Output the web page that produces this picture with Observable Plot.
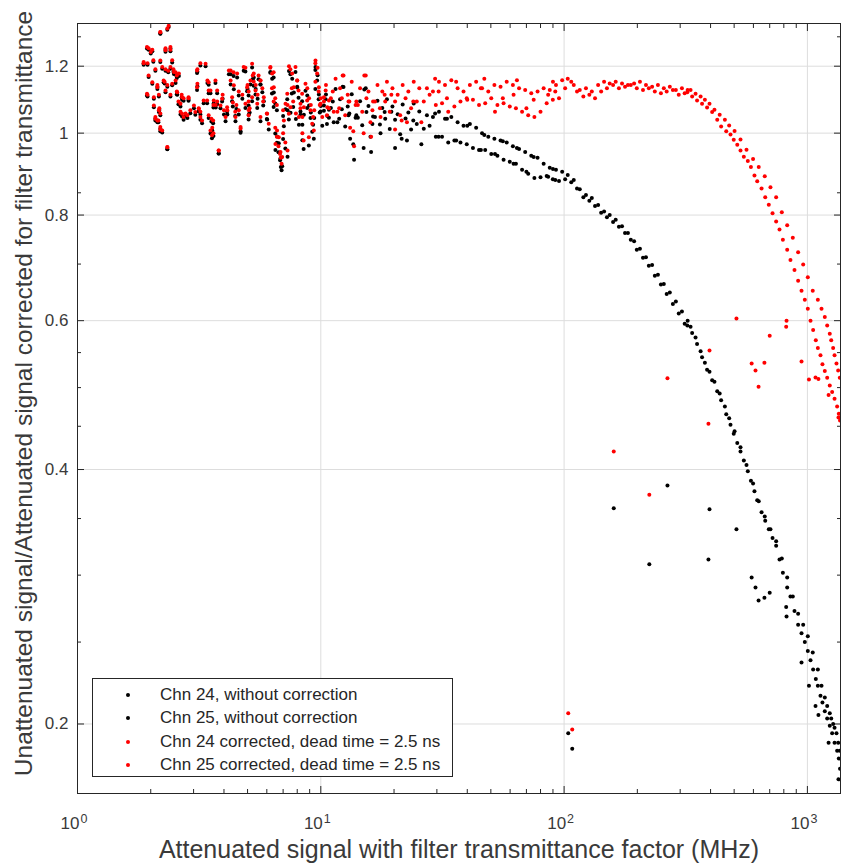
<!DOCTYPE html>
<html>
<head>
<meta charset="utf-8">
<script src="https://cdn.jsdelivr.net/npm/d3@7"></script>
<script src="https://cdn.jsdelivr.net/npm/@observablehq/plot@0.6"></script>
<style>
  body { margin: 0; background: #fff; }
  #wrap { position: relative; width: 841px; height: 863px; font-family: "Liberation Sans", Arial, Helvetica, sans-serif; }
  #legend { position: absolute; left: 92px; top: 678px; width: 359px; height: 97px; border: 1px solid #262626; background: #fff; }
  .row { position: absolute; left: 0; height: 20px; line-height: 20px; font-size: 17px; color: #262626; white-space: nowrap; }
  .row .m { position: absolute; left: 33px; top: 8px; width: 4px; height: 4px; border-radius: 50%; }
  .row .t { position: absolute; left: 67px; top: 0; }
</style>
</head>
<body>
<div id="wrap"></div>
<script>
// ---- tick labels / axis text ----
const xMajor = [1, 10, 100, 1000];
const xExp = ["0", "1", "2", "3"];
const xMinor = [2,3,4,5,6,7,8,9,20,30,40,50,60,70,80,90,200,300,400,500,600,700,800,900];
const yMajor = [0.2, 0.4, 0.6, 0.8, 1, 1.2];
const yMajorLabels = ["0.2", "0.4", "0.6", "0.8", "1", "1.2"];
const yMinor = [0.25, 0.3, 0.35, 0.45, 0.5, 0.55, 0.7, 0.85, 1.3];
const xLabel = "Attenuated signal with filter transmittance factor (MHz)";
const yLabel = "Unattenuated signal/Attenuated signal corrected for filter transmittance";
const seriesNames = ["Chn 24, without correction", "Chn 25, without correction",
  "Chn 24 corrected, dead time = 2.5 ns", "Chn 25 corrected, dead time = 2.5 ns"];

// ---- data: [attenuated signal (MHz), ratio without correction, ratio corrected] ----
const chn24Cloud = [
 [1.87,1.205,1.21],[1.94,1.105,1.11],[1.96,1.255,1.26],[2.09,1.185,1.19],[2.15,1.03,1.035],
 [2.16,1.105,1.11],[2.19,1.05,1.055],[2.19,1.311,1.316],[2.28,1.145,1.15],[2.30,1.255,1.26],
 [2.30,1.185,1.19],[2.34,0.957,0.962],[2.48,1.182,1.19],[2.53,1.172,1.18],[2.56,1.112,1.12],
 [2.65,1.052,1.06],[2.73,1.092,1.10],[2.83,1.042,1.05],[3.11,1.182,1.19],[3.15,1.062,1.07],
 [3.2,1.202,1.21],[3.42,1.146,1.154],[3.46,1.042,1.05],[3.58,1.007,1.015],[3.7,1.072,1.08],
 [3.8,0.946,0.954],[3.95,1.098,1.11],[4.26,1.174,1.186],[4.35,1.075,1.087],[4.45,1.048,1.06],
 [4.76,1.098,1.11],[4.9,1.183,1.195],[5.05,1.108,1.12],[5.05,1.038,1.05],[5.25,1.158,1.17],
 [5.4,1.128,1.14],[5.55,1.158,1.17],[5.75,1.118,1.13],[6.0,1.039,1.055],[6.4,1.164,1.18],
 [6.5,1.084,1.10],[6.6,1.064,1.08],[6.6,0.974,0.99],[6.8,0.929,0.945],[6.85,0.912,0.935],
 [7.0,1.048,1.064],[7.15,0.959,0.975],[7.4,1.184,1.2],[7.6,1.114,1.13],[7.9,1.039,1.055],
 [8.1,1.101,1.123],[8.4,1.023,1.045],[8.5,0.958,0.98],[8.95,1.078,1.10],[9.3,1.023,1.045],
 [9.5,1.188,1.21],[9.5,1.128,1.15],[9.9,1.058,1.08]
];
const chn24Cloud2 = [
 [1.87,1.209,1.214],[2.0,1.242,1.247],[2.03,1.144,1.149],[2.06,1.098,1.103],[2.09,1.04,1.045],
 [2.19,1.012,1.017],[2.16,1.059,1.064],[2.19,1.214,1.219],[2.26,1.149,1.154],[2.34,0.958,0.963],
 [2.41,1.259,1.264],[2.19,1.312,1.317],[2.49,1.175,1.181],[2.53,1.146,1.154],[2.61,1.168,1.176],
 [2.69,1.046,1.054],[2.69,1.095,1.103],[2.91,1.056,1.064],[3.05,1.051,1.059],[3.1,1.125,1.133],
 [3.2,1.037,1.045],[3.36,1.2,1.208],[3.46,1.141,1.149],[3.52,0.999,1.007],[3.61,1.027,1.035],
 [3.69,1.146,1.154],[3.81,0.946,0.954],[3.93,1.09,1.098],[4.06,1.033,1.045],[4.19,1.174,1.186],
 [4.32,1.091,1.103],[4.46,1.033,1.045],[4.6,1.052,1.064],[4.82,1.185,1.197],[4.98,1.121,1.133],
 [5.14,1.142,1.154],[5.22,1.196,1.208],[5.39,1.111,1.123],[5.65,1.142,1.154],[5.83,1.091,1.103],
 [6.11,1.01,1.026],[6.31,1.16,1.176],[6.51,0.955,0.971],[6.72,0.973,0.989],[6.94,0.914,0.937],
 [7.16,1.067,1.083],[7.39,1.038,1.054],[7.63,1.16,1.176],[7.87,1.181,1.197],[8.13,1.023,1.045],
 [8.38,1.091,1.113],[8.65,1.122,1.144],[8.93,0.967,0.989],[9.22,1.004,1.026],[9.51,1.197,1.219],
 [9.82,1.111,1.133],[10.14,1.02,1.045],[10.47,1.097,1.123],[10.8,1.066,1.093]
];
const chn24Mid = [
 [10.3,1.063,1.09],[10.8,1.043,1.07],[11.2,1.09,1.12],[11.7,1.03,1.06],[12.2,1.067,1.10],
 [12.6,1.018,1.05],[13.1,1.055,1.09],[13.6,0.97,1.005],[14.2,1.043,1.08],[14.8,1.022,1.06],
 [15.4,1.059,1.10],[16.0,0.99,1.03],[16.7,1.045,1.09],[17.5,1.024,1.07],[18.3,1.059,1.11],
 [19.2,1.011,1.06],[20.2,1.037,1.09],[21.2,0.997,1.05],[22.3,1.041,1.10],[23.5,1.01,1.07],
 [24.8,1.025,1.09],[26.5,1.012,1.09],[28,1.02,1.11],[29.7,0.99,1.08],[31.5,0.99,1.085],
 [33.4,0.975,1.06],[35.4,0.98,1.075],[37.5,0.975,1.09],[39.8,0.97,1.10],[42.2,0.96,1.095],
 [44.7,0.955,1.08],[47.4,0.955,1.085],[50.2,0.945,1.10],[53.2,0.94,1.08],[56.4,0.93,1.085],
 [59.8,0.925,1.075],[63.4,0.92,1.07],[67.2,0.905,1.06],[71.2,0.895,1.05],[75.5,0.885,1.045],
 [80,0.887,1.06],[84.8,0.89,1.085],[89.9,0.882,1.095],[95.3,0.878,1.10]
];
const chn24Mid2 = [
 [10.6,1.025,1.05],[11.9,1.04,1.07],[13.2,0.985,1.015],[14.0,1.05,1.09],[15.0,0.96,1.0],
 [16.3,1.025,1.064],[17.6,1.0,1.045],[19.5,1.06,1.11],[21.5,0.985,1.035],[24.0,1.035,1.09],
 [30.5,0.99,1.12],[36,0.98,1.15],[45.5,0.955,1.13],[52,0.945,1.06],[62,0.92,1.11],
 [70,0.9,1.07],[86,0.888,1.11],[92,0.88,1.12]
];
const chn24Flat = [
 [101,0.882,1.13],[107,0.875,1.15],[113,0.86,1.12],[120,0.84,1.105],[127,0.832,1.11],
 [134,0.82,1.10],[142,0.805,1.12],[150,0.795,1.13],[159,0.785,1.14],[168,0.775,1.13],
 [178,0.762,1.135],[188,0.748,1.14],[199,0.728,1.13],[211,0.712,1.125],[223,0.697,1.13],
 [236,0.678,1.12],[250,0.662,1.115],[264,0.645,1.12],[280,0.628,1.125],[296,0.612,1.11],
 [313,0.595,1.115]
];
const chn24Fall = [
 [321,0.592,1.118],[336,0.58,1.105],[352,0.563,1.093],[369,0.543,1.083],[387,0.525,1.072],
 [406,0.51,1.059],[426,0.495,1.037],[442,0.483,1.018],[464,0.465,1.005],[483,0.452,0.996],
 [498,0.441,0.982],[515,0.43,0.969],[531,0.42,0.954],[548,0.41,0.938],[569,0.398,0.927],
 [586,0.388,0.912],[606,0.377,0.891],[622,0.368,0.877],[648,0.356,0.86],[671,0.348,0.84],
 [694,0.34,0.823],[719,0.332,0.804],[744,0.325,0.786],[768,0.313,0.769],[793,0.302,0.748],
 [826,0.29,0.728],[852,0.283,0.708],[885,0.272,0.689],[916,0.262,0.669],[946,0.256,0.651],
 [976,0.25,0.635],[1004,0.244,0.62],[1030,0.238,0.6],[1056,0.232,0.585],[1083,0.226,0.569],
 [1104,0.222,0.557],[1132,0.216,0.546],[1153,0.212,0.533],[1179,0.207,0.523],[1206,0.203,0.5135],
 [1236,0.199,0.503],[1264,0.195,0.494],[1293,0.19,0.485],[1325,0.186,0.475],[1346,0.182,0.4655],
 [1362,0.177,0.457]
];
const chn24Out = [
 [104,0.195,0.206],[160,0.36,0.42],[266,0.383,0.513],[396,0.359,0.553],[590,0.298,0.534],
 [630,0.28,0.501],[700,0.286,0.576],[818,0.275,0.59],[946,0.2365,0.537],[1080,0.21,0.514],
 [1222,0.19,0.49]
];

const chn25Cloud = [
 [1.94,1.205,1.21],[2.03,1.25,1.255],[2.05,1.215,1.22],[2.09,1.035,1.04],[2.13,1.135,1.14],
 [2.17,1.065,1.07],[2.19,1.005,1.01],[2.34,1.325,1.33],[2.34,1.135,1.14],[2.36,1.18,1.185],
 [2.41,1.25,1.255],[2.41,1.105,1.11],[2.45,1.212,1.22],[2.56,1.162,1.17],[2.6,1.082,1.09],
 [2.68,1.102,1.11],[2.78,1.047,1.055],[2.86,1.092,1.10],[3.11,1.136,1.144],[3.2,1.052,1.06],
 [3.3,1.085,1.093],[3.46,1.115,1.123],[3.55,1.032,1.04],[3.62,0.992,1.0],[3.62,1.072,1.08],
 [3.75,1.082,1.09],[4.13,1.052,1.064],[4.38,1.168,1.18],[4.5,1.068,1.08],[4.6,1.108,1.12],
 [4.68,1.001,1.013],[5.0,1.128,1.14],[5.05,1.078,1.09],[5.1,1.058,1.07],[5.3,1.138,1.15],
 [5.5,1.098,1.11],[5.65,1.142,1.154],[5.8,1.078,1.09],[6.2,1.179,1.195],[6.3,1.114,1.13],
 [6.4,1.074,1.09],[6.5,0.999,1.015],[6.7,0.949,0.965],[6.9,0.904,0.92],[7.0,0.984,1.0],
 [7.3,0.938,0.954],[7.3,1.064,1.08],[7.5,1.174,1.19],[7.7,1.074,1.09],[8.0,1.135,1.154],
 [8.25,1.051,1.07],[8.4,0.981,1.0],[8.8,1.108,1.13],[9.1,1.058,1.08],[9.4,1.042,1.064],
 [9.7,1.171,1.195],[9.8,1.097,1.12],[10.0,1.077,1.10]
];
const chn25Cloud2 = [
 [1.93,1.259,1.264],[1.96,1.165,1.17],[1.93,1.108,1.113],[2.06,1.073,1.078],[2.13,1.03,1.035],
 [2.23,1.002,1.007],[2.13,1.128,1.133],[2.23,1.192,1.197],[2.30,1.118,1.123],[2.30,1.248,1.253],
 [2.37,1.335,1.34],[2.41,1.192,1.197],[2.45,1.139,1.144],[2.57,1.11,1.118],[2.65,1.075,1.083],
 [2.73,1.037,1.045],[2.86,1.095,1.103],[3.01,1.07,1.078],[3.1,1.178,1.186],[3.15,1.061,1.069],
 [3.25,1.027,1.035],[3.41,1.085,1.093],[3.52,1.115,1.123],[3.57,0.986,0.994],[3.63,1.085,1.093],
 [3.75,1.115,1.123],[3.87,1.07,1.078],[4.0,1.052,1.064],[4.12,1.061,1.073],[4.26,1.142,1.154],
 [4.39,1.127,1.139],[4.53,1.164,1.176],[4.68,1.005,1.017],[4.9,1.071,1.083],[5.06,1.052,1.064],
 [5.22,1.091,1.103],[5.3,1.164,1.176],[5.48,1.071,1.083],[5.65,1.033,1.045],[6.02,1.038,1.054],
 [6.21,1.181,1.197],[6.41,1.117,1.133],[6.61,0.991,1.007],[6.83,0.934,0.95],[7.05,1.019,1.035],
 [7.28,1.097,1.113],[7.51,1.057,1.073],[7.75,1.117,1.133],[8.0,1.132,1.154],[8.25,1.061,1.083],
 [8.52,1.051,1.073],[8.79,1.071,1.093],[9.07,1.042,1.064],[9.36,0.985,1.007],[9.66,1.154,1.176],
 [9.98,1.061,1.083],[10.3,1.078,1.103],[10.64,1.048,1.073]
];
const chn25Mid = [
 [10.5,1.111,1.14],[11.0,1.071,1.10],[11.5,1.128,1.16],[12.0,1.097,1.13],[12.4,1.134,1.17],
 [12.9,1.075,1.11],[13.4,1.112,1.15],[13.9,1.043,1.08],[14.5,1.091,1.13],[15.1,1.126,1.17],
 [15.7,1.077,1.12],[16.4,1.046,1.09],[17.1,1.092,1.14],[17.9,1.071,1.12],[18.7,1.097,1.15],
 [19.7,1.075,1.13],[20.7,1.053,1.11],[21.7,1.081,1.14],[22.9,1.058,1.12],[24.1,1.084,1.15],
 [25.4,1.061,1.13],[27.3,1.05,1.13],[28.9,1.045,1.12],[30.6,1.06,1.15],[32.4,1.04,1.14],
 [34.4,1.045,1.155],[36.5,1.03,1.13],[38.6,1.02,1.12],[41,1.025,1.14],[43.5,1.015,1.15],
 [46,1.0,1.13],[48.8,0.99,1.12],[51.7,0.985,1.14],[54.8,0.98,1.135],[58.1,0.975,1.15],
 [61.6,0.965,1.14],[65.3,0.958,1.13],[69.2,0.95,1.125],[73.3,0.94,1.115],[77.8,0.935,1.12],
 [82.4,0.92,1.13],[87.3,0.91,1.125],[92.6,0.905,1.14],[98.2,0.9,1.155]
];
const chn25Mid2 = [
 [11.3,1.03,1.06],[12.3,1.135,1.17],[13.0,1.05,1.09],[13.7,0.93,0.965],[15.3,1.13,1.17],
 [16.1,0.95,0.99],[18.4,1.04,1.09],[20.2,0.96,1.01],[22.6,0.98,1.03],[25.9,0.97,1.03],
 [29.5,1.055,1.16],[33,1.04,1.10],[40,1.02,1.095],[47,0.995,1.16],[56,0.978,1.10],
 [64,0.96,1.155],[75,0.937,1.095],[90,0.907,1.15]
];
const chn25Flat = [
 [103.5,0.892,1.16],[109.6,0.88,1.14],[116,0.858,1.125],[123,0.845,1.13],[130,0.838,1.12],
 [138,0.822,1.14],[146,0.808,1.15],[154,0.8,1.145],[163,0.79,1.15],[173,0.776,1.145],
 [183,0.762,1.14],[194,0.745,1.145],[205,0.73,1.15],[217,0.713,1.14],[230,0.698,1.135],
 [243,0.68,1.14],[257,0.663,1.13],[272,0.648,1.135],[288,0.632,1.125],[305,0.615,1.13],
 [322,0.6,1.125]
];
const chn25Fall = [
 [331,0.59,1.125],[347,0.573,1.113],[364,0.552,1.105],[379,0.535,1.095],[396,0.522,1.083],
 [415,0.508,1.066],[436,0.492,1.051],[458,0.475,1.037],[477,0.46,1.021],[502,0.444,1.006],
 [531,0.425,0.983],[562,0.405,0.956],[598,0.385,0.932],[631,0.367,0.912],[668,0.352,0.889],
 [705,0.34,0.863],[744,0.329,0.84],[785,0.314,0.806],[826,0.298,0.778],[871,0.283,0.752],
 [916,0.27,0.723],[961,0.262,0.699],[1004,0.254,0.6755],[1052,0.243,0.651],[1104,0.232,0.635],
 [1143,0.222,0.62],[1179,0.215,0.606],[1206,0.21,0.592],[1236,0.206,0.579],[1253,0.203,0.569],
 [1276,0.2,0.557],[1293,0.198,0.546],[1317,0.195,0.534],[1338,0.19,0.524],[1359,0.186,0.5135]
];
const chn25Out = [
 [108,0.187,0.197],[224,0.309,0.3735],[392,0.313,0.453],[511,0.34,0.6035],[612,0.29,0.524],
 [666,0.282,0.535],[821,0.268,0.6],[1015,0.222,0.511],[1110,0.205,0.512],[1342,0.172,0.461]
];

// ---- build series ----
const chn24 = [...chn24Cloud, ...chn24Cloud2, ...chn24Mid, ...chn24Mid2, ...chn24Flat, ...chn24Fall, ...chn24Out];
const chn25 = [...chn25Cloud, ...chn25Cloud2, ...chn25Mid, ...chn25Mid2, ...chn25Flat, ...chn25Fall, ...chn25Out];
const pick = (arr, k) => arr.map(d => ({x: d[0], y: d[k]}));
const raw24 = pick(chn24, 1), raw25 = pick(chn25, 1);
const cor24 = pick(chn24, 2), cor25 = pick(chn25, 2);

const FONT = '"Liberation Sans", Arial, Helvetica, sans-serif';
const AXC = "#262626";
const TXT = "#3a3a3a";
const GRID = "#dddddd";
const RED = "#ff0000";
const R = 2;

const xTicks = xMajor.map((v, i) => ({v, e: xExp[i]}));
const yTicks = yMajor.map((v, i) => ({v, t: yMajorLabels[i]}));

const chart = Plot.plot({
  width: 841,
  height: 863,
  marginLeft: 77,
  marginRight: 1,
  marginTop: 23,
  marginBottom: 70,
  x: {type: "log", domain: [1, 1368]},
  y: {type: "log", domain: [0.1655, 1.348]},
  style: {fontFamily: FONT, background: "#fff", overflow: "visible"},
  marks: [
    Plot.gridX(xMajor.slice(1), {stroke: GRID, strokeOpacity: 1}),
    Plot.gridY(yMajor, {stroke: GRID, strokeOpacity: 1}),
    // inward ticks
    Plot.axisX(xMajor, {anchor: "bottom", tickSize: -7, tickFormat: () => "", label: null, stroke: AXC}),
    Plot.axisX(xMinor, {anchor: "bottom", tickSize: -4, tickFormat: () => "", label: null, stroke: AXC}),
    Plot.axisX(xMajor, {anchor: "top", tickSize: -7, tickFormat: () => "", label: null, stroke: AXC}),
    Plot.axisX(xMinor, {anchor: "top", tickSize: -4, tickFormat: () => "", label: null, stroke: AXC}),
    Plot.axisY(yMajor, {anchor: "left", tickSize: -7, tickFormat: () => "", label: null, stroke: AXC}),
    Plot.axisY(yMinor, {anchor: "left", tickSize: -4, tickFormat: () => "", label: null, stroke: AXC}),
    Plot.axisY(yMajor, {anchor: "right", tickSize: -7, tickFormat: () => "", label: null, stroke: AXC}),
    Plot.axisY(yMinor, {anchor: "right", tickSize: -4, tickFormat: () => "", label: null, stroke: AXC}),
    // y tick labels
    Plot.text(yTicks, {y: "v", text: "t", frameAnchor: "left", textAnchor: "end", dx: -9, fontSize: 17, fill: TXT}),
    // x tick labels 10^n
    Plot.text(xTicks, {x: "v", text: () => "10", frameAnchor: "bottom", textAnchor: "end", lineAnchor: "bottom", dx: 2, dy: 35, fontSize: 17, fill: TXT}),
    Plot.text(xTicks, {x: "v", text: "e", frameAnchor: "bottom", textAnchor: "start", lineAnchor: "bottom", dx: 3, dy: 29, fontSize: 12.5, fill: TXT}),
    // axis titles
    Plot.text([xLabel], {frameAnchor: "bottom", textAnchor: "middle", lineAnchor: "bottom", dy: 64, fontSize: 25, fill: TXT}),
    Plot.text([yLabel], {frameAnchor: "left", textAnchor: "middle", rotate: -90, lineAnchor: "bottom", dx: -46, dy: -15, fontSize: 24.5, fill: TXT}),
    // data
    Plot.dot(raw24, {x: "x", y: "y", r: R, fill: "#000", stroke: null, clip: true}),
    Plot.dot(raw25, {x: "x", y: "y", r: R, fill: "#000", stroke: null, clip: true}),
    Plot.dot(cor24, {x: "x", y: "y", r: R, fill: RED, stroke: null, clip: true}),
    Plot.dot(cor25, {x: "x", y: "y", r: R, fill: RED, stroke: null, clip: true}),
    Plot.frame({stroke: AXC, strokeWidth: 1})
  ]
});

const wrap = document.getElementById("wrap");
wrap.appendChild(chart);

// legend (inside the axes, lower left)
const legend = document.createElement("div");
legend.id = "legend";
const colors = ["#000", "#000", RED, RED];
const rowTops = [6, 29, 53, 76];
seriesNames.forEach((name, i) => {
  const r = document.createElement("div");
  r.className = "row";
  r.style.top = rowTops[i] + "px";
  const m = document.createElement("span");
  m.className = "m";
  m.style.background = colors[i];
  const t = document.createElement("span");
  t.className = "t";
  t.textContent = name;
  r.appendChild(m); r.appendChild(t);
  legend.appendChild(r);
});
wrap.appendChild(legend);
</script>
</body>
</html>
